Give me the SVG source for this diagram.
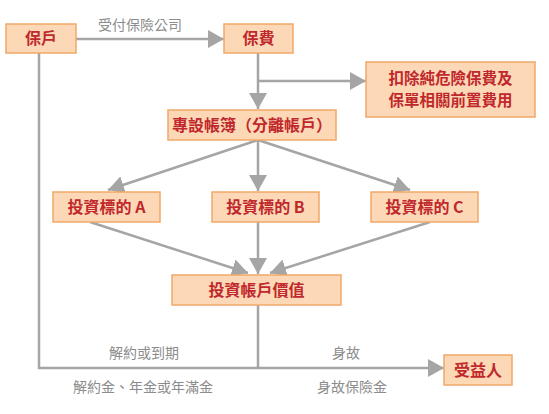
<svg xmlns="http://www.w3.org/2000/svg" width="549" height="414" viewBox="0 0 549 414">
<defs>
<style>
.box{fill:#fdd8b6;stroke:#f0a868;stroke-width:1.5}
.bt{font-family:"Noto Sans CJK TC","Noto Sans CJK SC",sans-serif;font-weight:bold;font-size:16px;fill:#c0282d;text-anchor:middle}
.bt2{font-size:15.5px}
.lab{font-family:"Noto Sans CJK TC","Noto Sans CJK SC",sans-serif;font-size:14px;fill:#8c8c8c;text-anchor:middle}
.ln{fill:none;stroke:#a5a5a5;stroke-width:2.5}
</style>
<marker id="ah" markerUnits="userSpaceOnUse" markerWidth="16" markerHeight="18" refX="16" refY="9" orient="auto" viewBox="0 0 16 18">
<path d="M0,0 L16,9 L0,18 z" fill="#a5a5a5"/>
</marker>
</defs>
<rect width="549" height="414" fill="#ffffff"/>
<g id="connectors">
<line class="ln" x1="76" y1="39" x2="224" y2="39" marker-end="url(#ah)"/>
<line class="ln" x1="258" y1="53" x2="258" y2="109" marker-end="url(#ah)"/>
<line class="ln" x1="258" y1="81" x2="366" y2="81" marker-end="url(#ah)"/>
<line class="ln" x1="258" y1="140" x2="108" y2="190" marker-end="url(#ah)"/>
<line class="ln" x1="258" y1="140" x2="258" y2="191" marker-end="url(#ah)"/>
<line class="ln" x1="258" y1="140" x2="410" y2="190" marker-end="url(#ah)"/>
<line class="ln" x1="90" y1="222" x2="248" y2="273" marker-end="url(#ah)"/>
<line class="ln" x1="258" y1="222" x2="258" y2="274" marker-end="url(#ah)"/>
<line class="ln" x1="430" y1="222" x2="270" y2="273" marker-end="url(#ah)"/>
<line class="ln" x1="258" y1="305" x2="258" y2="368"/>
<path class="ln" d="M39,53 V368 H444" marker-end="url(#ah)"/>
<text class="lab" x="140" y="30">受付保險公司</text>
<text class="lab" x="144" y="358">解約或到期</text>
<text class="lab" x="346" y="358">身故</text>
<text class="lab" x="143" y="392">解約金、年金或年滿金</text>
<text class="lab" x="352" y="392">身故保險金</text>
</g>
<g id="policyholder"><rect class="box" x="6" y="24" width="70" height="29"/><text class="bt" x="41" y="44">保戶</text></g>
<g id="premium"><rect class="box" x="224" y="24" width="69" height="29"/><text class="bt" x="258.5" y="44">保費</text></g>
<g id="deduct"><rect class="box" x="366" y="62" width="169" height="55"/><text class="bt bt2" x="450.5" y="84">扣除純危險保費及</text><text class="bt bt2" x="450.5" y="106">保單相關前置費用</text></g>
<g id="separate"><rect class="box" x="168" y="110" width="168" height="30"/><text class="bt" x="252" y="131">專設帳簿（分離帳戶）</text></g>
<g id="invA"><rect class="box" x="53" y="192" width="107" height="30"/><text class="bt" x="106.5" y="213">投資標的 A</text></g>
<g id="invB"><rect class="box" x="212" y="192" width="107" height="30"/><text class="bt" x="265.5" y="213">投資標的 B</text></g>
<g id="invC"><rect class="box" x="371" y="192" width="107" height="30"/><text class="bt" x="424.5" y="213">投資標的 C</text></g>
<g id="value"><rect class="box" x="172" y="275" width="169" height="30"/><text class="bt" x="256.5" y="296">投資帳戶價值</text></g>
<g id="beneficiary"><rect class="box" x="444" y="355" width="68" height="30"/><text class="bt" x="478" y="376">受益人</text></g>
</svg>
